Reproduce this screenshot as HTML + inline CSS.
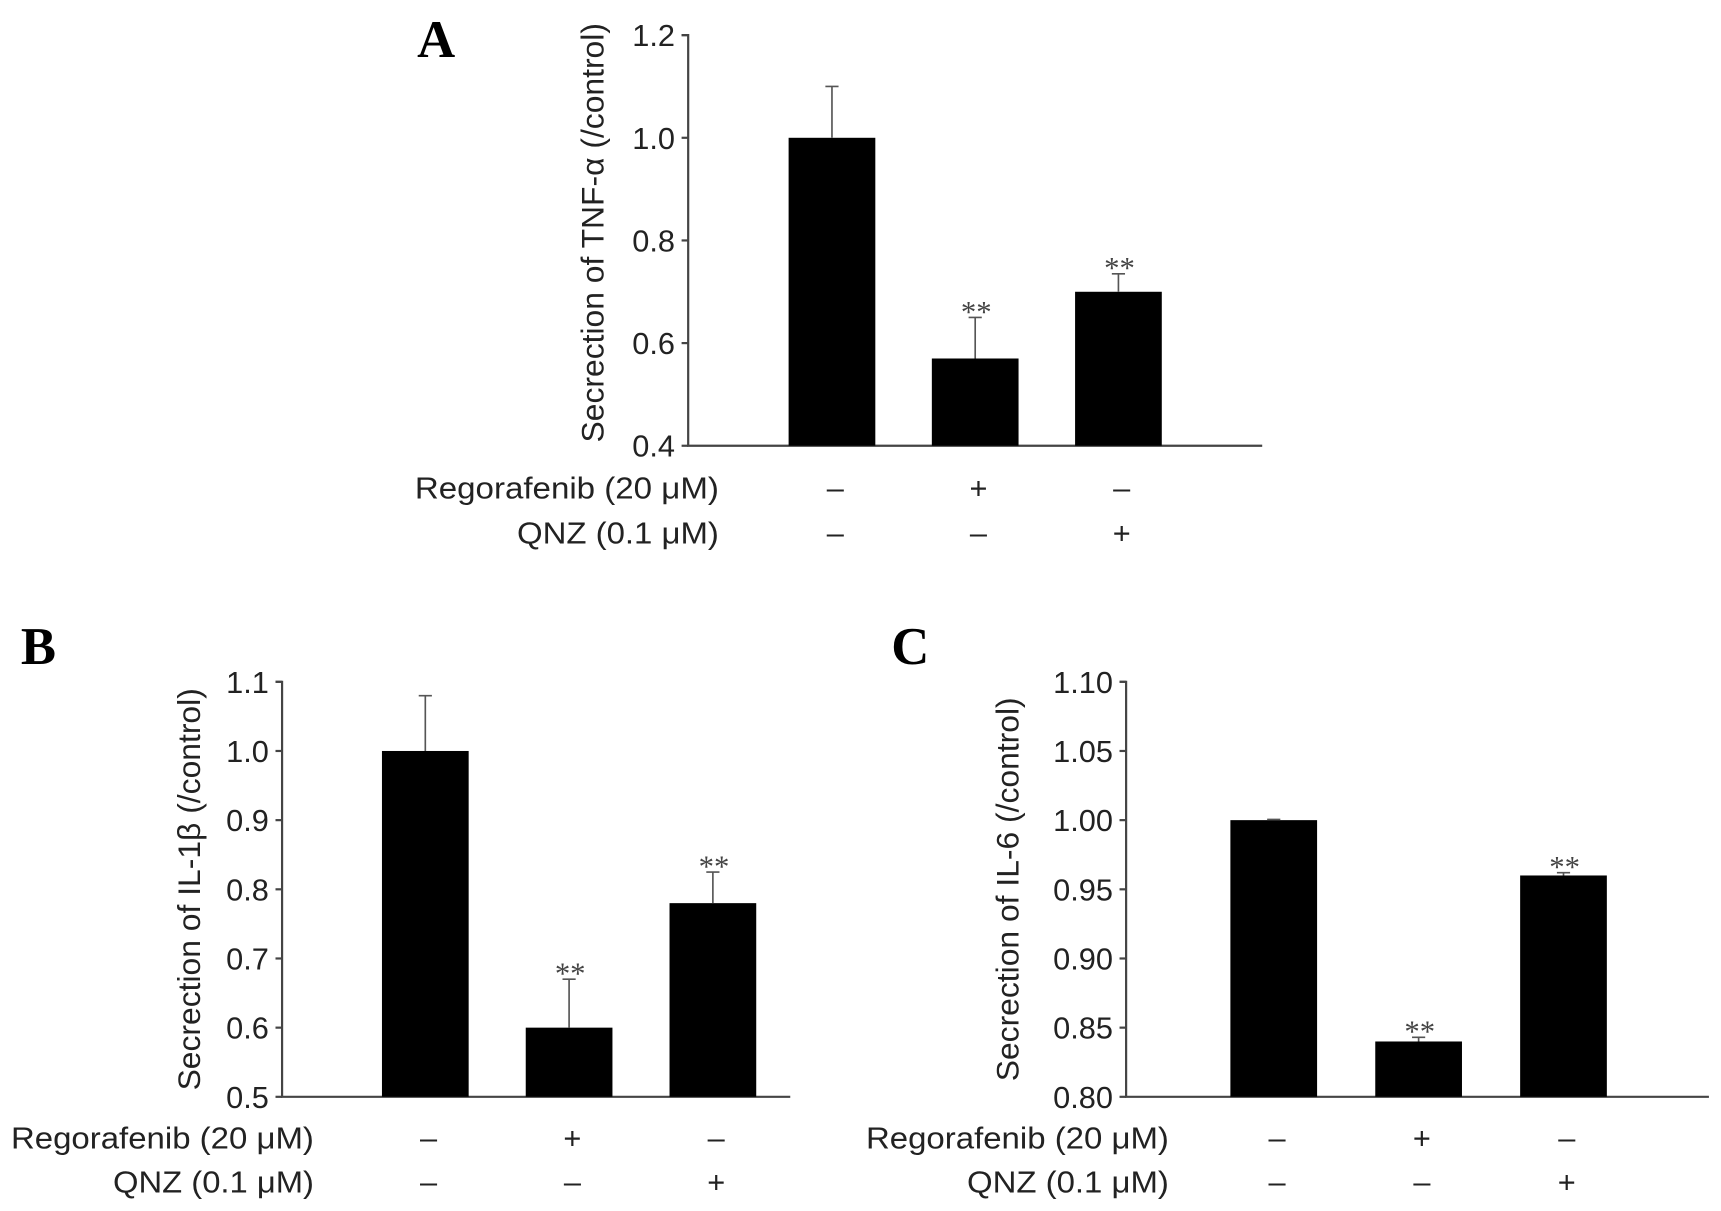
<!DOCTYPE html>
<html><head><meta charset="utf-8"><style>
html,body{margin:0;padding:0;background:#fff;}
svg{display:block;}
text{font-family:"Liberation Sans",sans-serif;fill:#222;}
text.serif{font-family:"Liberation Serif",serif;}
</style></head><body>
<svg id="fig" width="1721" height="1211" viewBox="0 0 1568 1103" preserveAspectRatio="none" xmlns="http://www.w3.org/2000/svg"></svg>
<script>
// Panel A data
const aCategories = ["control", "regorafenib", "qnz"];
const aValues = [1.0, 0.57, 0.70];
const aErrors = [0.10, 0.08, 0.035];
const aTicks = ["0.4","0.6","0.8","1.0","1.2"];
const aSig = ["", "**", "**"];
// Panel B data
const bCategories = ["control", "regorafenib", "qnz"];
const bValues = [1.0, 0.60, 0.78];
const bErrors = [0.08, 0.07, 0.045];
const bTicks = ["0.5","0.6","0.7","0.8","0.9","1.0","1.1"];
const bSig = ["", "**", "**"];
// Panel C data
const cCategories = ["control", "regorafenib", "qnz"];
const cValues = [1.00, 0.84, 0.96];
const cErrors = [0.0005, 0.003, 0.002];
const cTicks = ["0.80","0.85","0.90","0.95","1.00","1.05","1.10"];
const cSig = ["", "**", "**"];
const regSigns = ["–", "+", "–"];
const qnzSigns = ["–", "–", "+"];

const NS = "http://www.w3.org/2000/svg";
const svg = document.getElementById("fig");
function mk(tag, attrs, parent) {
  const e = document.createElementNS(NS, tag);
  for (const k in attrs) e.setAttribute(k, attrs[k]);
  (parent || svg).appendChild(e);
  return e;
}
function txt(s, attrs, parent) { const t = mk("text", attrs, parent); t.textContent = s; return t; }

function panel(cfg) {
  const g = mk("g", {});
  
  
  const ticks = cfg.ticks.map(Number);
  const lo = ticks[0], hi = ticks[ticks.length - 1];
  const y = v => cfg.yBot - (v - lo) / (hi - lo) * (cfg.yBot - cfg.yTop);
  const ax = mk("path", {d:`M${cfg.ax-6},${cfg.yTop}H${cfg.ax}V${cfg.yBot}H${cfg.xEnd}`, stroke:"#444", "stroke-width":2, fill:"none"}, g);
  
  
  cfg.ticks.forEach((t, i) => {
    const yy = y(ticks[i]);
    mk("line", {x1:cfg.ax-6, x2:cfg.ax, y1:yy, y2:yy, stroke:"#444", "stroke-width":2}, g);
    const tl = txt(t, {x:cfg.ax-12, y:yy+10, "font-size":28, "text-anchor":"end"}, g);
    
    
  });
  const yt = txt(cfg.ytitle, {x:0, y:0, "font-size":29, "text-anchor":"middle", transform:`translate(${cfg.ytx},${cfg.ytyc}) rotate(-90)`}, g);
  
  
  const lt = txt(cfg.letter, {x:cfg.lx, y:cfg.ly, "font-size":48, "font-weight":"bold", "class":"serif", style:"fill:#000"}, g);
  
  
  cfg.values.forEach((v, i) => {
    const cx = cfg.x0 + i * cfg.step;
    const bar = mk("rect", {x:cx-39.5, y:y(v), width:79, height:cfg.yBot-y(v), fill:"#000"}, g);
    
    
    const ye = y(v + cfg.errors[i]);
    const eb = mk("path", {d:`M${cx},${y(v)}V${ye}M${cx-6},${ye}H${cx+6}`, stroke:"#555", "stroke-width":1.5, fill:"none"}, g);
    
    
    if (cfg.sig[i]) {
      const s = txt(cfg.sig[i], {x:cx+1, y:ye+4, "font-size":28, "text-anchor":"middle", "class":"serif", style:"fill:#444"}, g);
      
      
    }
    const r = txt(regSigns[i], {x:cx+3, y:cfg.r1+10, "font-size":28, "text-anchor":"middle"}, g);
    
    
    const q = txt(qnzSigns[i], {x:cx+3, y:cfg.r2+10, "font-size":28, "text-anchor":"middle"}, g);
    
    
  });
  const l1 = txt("Regorafenib (20 μM)", {x:cfg.labR, y:cfg.r1+10, "font-size":28, "text-anchor":"end", textLength:cfg.labR-cfg.l1x, lengthAdjust:"spacingAndGlyphs"}, g);
  
  
  const l2 = txt("QNZ (0.1 μM)", {x:cfg.labR, y:cfg.r2+10, "font-size":28, "text-anchor":"end", textLength:cfg.labR-cfg.l2x, lengthAdjust:"spacingAndGlyphs"}, g);
  
  
}

panel({name:"panel-a-tnf", ticks:aTicks, values:aValues, errors:aErrors, sig:aSig, cats:aCategories,
  ax:627, yTop:32, yBot:406, xEnd:1150, x0:758, step:130.5, ytitle:"Secrection of TNF-α (/control)", ytx:550, ytyc:212,
  letter:"A", lx:380, ly:52, r1:444, r2:485, labR:655, l1x:378, l2x:471});
panel({name:"panel-b-il1b", ticks:bTicks, values:bValues, errors:bErrors, sig:bSig, cats:bCategories,
  ax:257, yTop:621, yBot:999, xEnd:720, x0:387.5, step:131, ytitle:"Secrection of IL-1β (/control)", ytx:182, ytyc:810,
  letter:"B", lx:19, ly:605, r1:1036, r2:1076, labR:286, l1x:10, l2x:103});
panel({name:"panel-c-il6", ticks:cTicks, values:cValues, errors:cErrors, sig:cSig, cats:cCategories,
  ax:1026, yTop:621, yBot:999, xEnd:1557, x0:1160.5, step:132, ytitle:"Secrection of IL-6 (/control)", ytx:928, ytyc:810,
  letter:"C", lx:812, ly:605, r1:1036, r2:1076, labR:1065, l1x:789, l2x:881});
</script>
</body></html>
